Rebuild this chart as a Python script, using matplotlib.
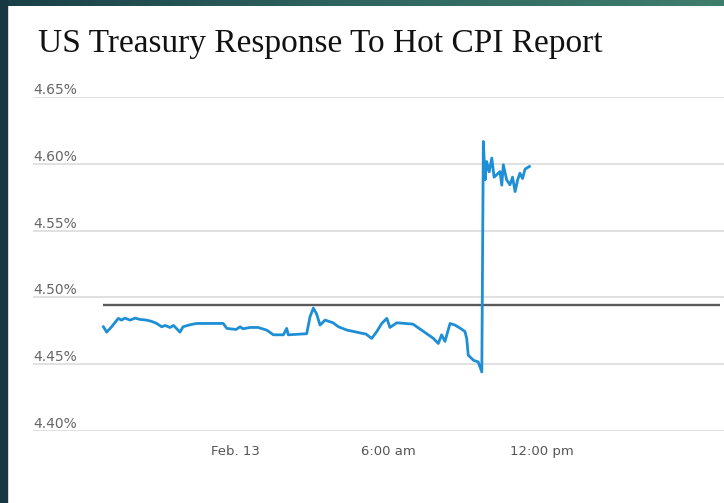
import numpy as np
import matplotlib
matplotlib.use('Agg')
import matplotlib.pyplot as plt
from matplotlib.patches import Rectangle
from matplotlib.colors import LinearSegmentedColormap

# hours from Feb. 13 00:00, 10y yield in %
hours = [-5.14, -5.01, -4.82, -4.56, -4.43, -4.30, -4.10, -3.90, -3.71, -3.45,
         -3.25, -3.06, -2.86, -2.73, -2.54, -2.40, -2.15, -2.03, -1.76, -1.50,
         -0.46, -0.32, 0.04, 0.20, 0.31, 0.59, 0.90, 1.24, 1.50, 1.89,
         2.02, 2.08, 2.80, 2.93, 3.06, 3.19, 3.32, 3.52, 3.83, 4.04,
         4.38, 4.75, 5.12, 5.34, 5.54, 5.73, 5.93, 6.05, 6.32, 6.95,
         7.29, 7.55, 7.75, 7.94, 8.07, 8.20, 8.40, 8.59, 8.79, 8.98,
         9.05, 9.11, 9.31, 9.50, 9.64, 9.70, 9.77, 9.83, 9.93, 10.03,
         10.12, 10.22, 10.35, 10.42, 10.48, 10.61, 10.74, 10.84, 10.94, 11.04,
         11.13, 11.23, 11.33, 11.50]
yields = [4.478, 4.474, 4.478, 4.4843, 4.483, 4.4845, 4.483, 4.4845, 4.4835, 4.483,
          4.482, 4.4805, 4.478, 4.479, 4.4775, 4.479, 4.474, 4.478, 4.4795, 4.4805,
          4.4805, 4.4768, 4.476, 4.478, 4.4765, 4.4775, 4.4775, 4.4755, 4.472, 4.472,
          4.4768, 4.472, 4.4728, 4.4855, 4.492, 4.4875, 4.4793, 4.483, 4.481, 4.478,
          4.4755, 4.474, 4.4725, 4.4693, 4.4745, 4.4805, 4.4843, 4.4775, 4.481, 4.480,
          4.4755, 4.472, 4.4693, 4.4655, 4.472, 4.467, 4.4805, 4.4793, 4.477, 4.4745,
          4.4693, 4.4568, 4.453, 4.4517, 4.4442, 4.6167, 4.588, 4.6017, 4.594, 4.6043,
          4.590, 4.5918, 4.5942, 4.584, 4.5993, 4.588, 4.5843, 4.590, 4.5792, 4.588,
          4.593, 4.589, 4.596, 4.598]

ref_level = 4.494
ref_start = -5.16
ref_end = 18.95

y_ticks = [4.40, 4.45, 4.50, 4.55, 4.60, 4.65]
y_labels = ['4.40%', '4.45%', '4.50%', '4.55%', '4.60%', '4.65%']
x_ticks = [0, 6, 12]
x_labels = ['Feb. 13', '6:00 am', '12:00 pm']

title = 'US Treasury Response To Hot CPI Report'

W, H = 724, 503
fig = plt.figure(figsize=(W / 100, H / 100), dpi=100)
fig.patch.set_facecolor('white')

# slide frame: dark strip left, gradient strip on top
fig.patches.append(Rectangle((0, 0), 7 / W, 1, transform=fig.transFigure,
                             color='#173840', zorder=0))
band = fig.add_axes([0, 1 - 6 / H, 1, 6 / H])
grad = np.linspace(0, 1, 256).reshape(1, -1)
cmap = LinearSegmentedColormap.from_list('band', ['#1a3f47', '#2f6660', '#3f7d6c'])
band.imshow(grad, aspect='auto', cmap=cmap)
band.axis('off')

ax = fig.add_axes([33 / W, 1 - 431 / H, 691 / W, (431 - 97) / H])
ax.plot(hours, yields, color='#1e8fd5', lw=2.0, zorder=3)
ax.hlines(ref_level, ref_start, ref_end, color='#5a5a5a', lw=1.7, zorder=2)

ax.set_xlim(-7.89, 19.1)
ax.set_ylim(4.40, 4.65)
ax.set_yticks(y_ticks)
ax.set_yticklabels(y_labels)
ax.set_xticks(x_ticks)
ax.set_xticklabels(x_labels)
ax.grid(axis='y', color='#dedede', lw=1.3)
ax.set_axisbelow(True)
for s in ax.spines.values():
    s.set_visible(False)

ax.tick_params(axis='y', length=0, pad=0, labelcolor='#666666', labelsize=10)
for lab in ax.get_yticklabels():
    lab.set_horizontalalignment('left')
    lab.set_verticalalignment('bottom')
ax.tick_params(axis='x', length=0, pad=10, labelcolor='#555555', labelsize=9.5)

fig.text(38 / W, 1 - 52 / H, title, family='Liberation Serif', fontsize=24,
         color='#111111', va='baseline', ha='left')

plt.savefig('out.png', dpi=100, facecolor=fig.get_facecolor())
